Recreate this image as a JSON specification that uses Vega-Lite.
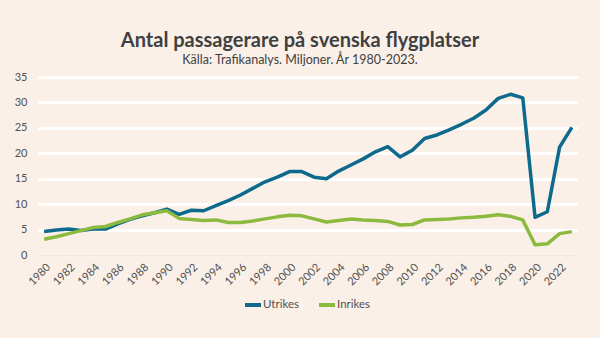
{
  "$schema": "https://vega.github.io/schema/vega-lite/v6.json",
  "width": 540,
  "height": 178,
  "autosize": {"type": "none"},
  "padding": {"left": 38, "top": 77, "right": 22, "bottom": 83},
  "background": "#FAF0E8",
  "title": {
    "text": "Antal passagerare på svenska flygplatser",
    "subtitle": "Källa: Trafikanalys. Miljoner. År 1980-2023.",
    "anchor": "middle",
    "dx": -8,
    "offset": 5,
    "font": "Lato",
    "fontSize": 20,
    "fontWeight": "bold",
    "color": "#404040",
    "subtitleFont": "Lato",
    "subtitleFontSize": 12.5,
    "subtitleColor": "#404040",
    "subtitlePadding": 3
  },
  "data": {
    "values": [
      {"year": 1980, "Utrikes": 4.6, "Inrikes": 3.1},
      {"year": 1981, "Utrikes": 4.9, "Inrikes": 3.6},
      {"year": 1982, "Utrikes": 5.1, "Inrikes": 4.2},
      {"year": 1983, "Utrikes": 4.8, "Inrikes": 4.8},
      {"year": 1984, "Utrikes": 5.1, "Inrikes": 5.4},
      {"year": 1985, "Utrikes": 5.1, "Inrikes": 5.6},
      {"year": 1986, "Utrikes": 6.1, "Inrikes": 6.4},
      {"year": 1987, "Utrikes": 7.0, "Inrikes": 7.1},
      {"year": 1988, "Utrikes": 7.7, "Inrikes": 7.9},
      {"year": 1989, "Utrikes": 8.3, "Inrikes": 8.3},
      {"year": 1990, "Utrikes": 9.0, "Inrikes": 8.7},
      {"year": 1991, "Utrikes": 8.0, "Inrikes": 7.2},
      {"year": 1992, "Utrikes": 8.8, "Inrikes": 7.0},
      {"year": 1993, "Utrikes": 8.7, "Inrikes": 6.8},
      {"year": 1994, "Utrikes": 9.7, "Inrikes": 6.9},
      {"year": 1995, "Utrikes": 10.7, "Inrikes": 6.4},
      {"year": 1996, "Utrikes": 11.8, "Inrikes": 6.4},
      {"year": 1997, "Utrikes": 13.1, "Inrikes": 6.7},
      {"year": 1998, "Utrikes": 14.4, "Inrikes": 7.1},
      {"year": 1999, "Utrikes": 15.3, "Inrikes": 7.5},
      {"year": 2000, "Utrikes": 16.4, "Inrikes": 7.8},
      {"year": 2001, "Utrikes": 16.4, "Inrikes": 7.7},
      {"year": 2002, "Utrikes": 15.3, "Inrikes": 7.1},
      {"year": 2003, "Utrikes": 15.0, "Inrikes": 6.5},
      {"year": 2004, "Utrikes": 16.5, "Inrikes": 6.8},
      {"year": 2005, "Utrikes": 17.7, "Inrikes": 7.1},
      {"year": 2006, "Utrikes": 18.9, "Inrikes": 6.9},
      {"year": 2007, "Utrikes": 20.3, "Inrikes": 6.8},
      {"year": 2008, "Utrikes": 21.3, "Inrikes": 6.6},
      {"year": 2009, "Utrikes": 19.3, "Inrikes": 5.9},
      {"year": 2010, "Utrikes": 20.6, "Inrikes": 6.0},
      {"year": 2011, "Utrikes": 22.9, "Inrikes": 6.9},
      {"year": 2012, "Utrikes": 23.6, "Inrikes": 7.0},
      {"year": 2013, "Utrikes": 24.6, "Inrikes": 7.1},
      {"year": 2014, "Utrikes": 25.7, "Inrikes": 7.3},
      {"year": 2015, "Utrikes": 26.9, "Inrikes": 7.4},
      {"year": 2016, "Utrikes": 28.5, "Inrikes": 7.6},
      {"year": 2017, "Utrikes": 30.8, "Inrikes": 7.9},
      {"year": 2018, "Utrikes": 31.6, "Inrikes": 7.6},
      {"year": 2019, "Utrikes": 30.9, "Inrikes": 6.9},
      {"year": 2020, "Utrikes": 7.4, "Inrikes": 2.0},
      {"year": 2021, "Utrikes": 8.5, "Inrikes": 2.2},
      {"year": 2022, "Utrikes": 21.2, "Inrikes": 4.2},
      {"year": 2023, "Utrikes": 25.1, "Inrikes": 4.6}
    ]
  },
  "transform": [{"fold": ["Utrikes", "Inrikes"], "as": ["typ", "passagerare"]}],
  "mark": {"type": "line", "strokeWidth": 3.5, "strokeJoin": "round", "strokeCap": "butt"},
  "encoding": {
    "x": {
      "field": "year",
      "type": "ordinal",
      "scale": {"type": "point", "padding": 0.5},
      "axis": {
        "title": null,
        "values": [1980,1982,1984,1986,1988,1990,1992,1994,1996,1998,2000,2002,2004,2006,2008,2010,2012,2014,2016,2018,2020,2022],
        "labelAngle": -45,
        "labelFont": "Lato",
        "labelFontSize": 11,
        "labelColor": "#505050",
        "labelDx": -3,
        "domain": false,
        "ticks": false,
        "grid": false,
        "labelPadding": 6
      }
    },
    "y": {
      "field": "passagerare",
      "type": "quantitative",
      "scale": {"domain": [0, 35], "nice": false},
      "axis": {
        "title": null,
        "values": [0, 5, 10, 15, 20, 25, 30, 35],
        "labelFont": "Lato",
        "labelFontSize": 11,
        "labelColor": "#505050",
        "labelPadding": 11,
        "domain": false,
        "ticks": false,
        "grid": true,
        "gridColor": {"condition": {"test": "datum.value === 0", "value": "#F2E6DC"}, "value": "#FFFFFF"},
        "gridWidth": {"condition": {"test": "datum.value === 0", "value": 1}, "value": 3},
        "gridOpacity": 1
      }
    },
    "color": {
      "field": "typ",
      "type": "nominal",
      "scale": {"domain": ["Utrikes", "Inrikes"], "range": ["#0E6A8C", "#8CBA3E"]},
      "legend": {
        "title": null,
        "orient": "none",
        "direction": "horizontal",
        "legendX": 205,
        "legendY": 218,
        "symbolType": "stroke",
        "symbolStrokeWidth": 4,
        "symbolSize": 256,
        "labelOffset": 0,
        "columnPadding": 12,
        "labelFont": "Lato",
        "labelFontSize": 11.5,
        "labelColor": "#505050"
      }
    }
  },
  "config": {"view": {"stroke": null}}
}
